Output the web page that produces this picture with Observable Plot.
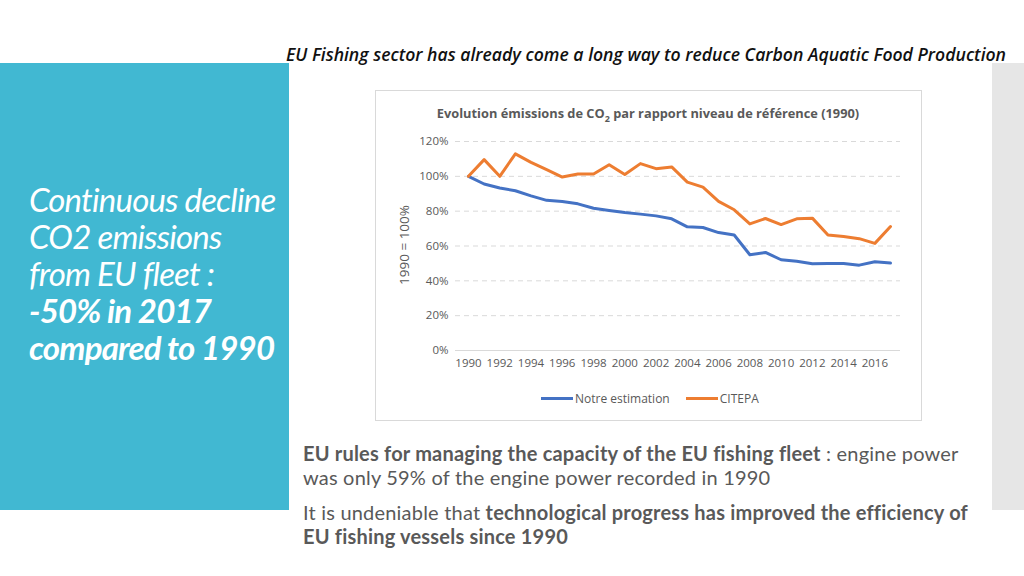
<!DOCTYPE html>
<html><head><meta charset="utf-8">
<script src="https://cdn.jsdelivr.net/npm/d3@7"></script>
<script src="https://cdn.jsdelivr.net/npm/@observablehq/plot@0.6"></script>
<style>
html,body{margin:0;padding:0;background:#fff;width:1024px;height:576px;overflow:hidden;position:relative;font-family:Lato,"Open Sans",sans-serif;}
.abs{position:absolute;}
#header{left:286px;top:42px;font-family:"Open Sans",sans-serif;font-style:italic;font-weight:600;font-size:18px;color:#111;white-space:nowrap;transform-origin:left top;}
#panel{left:0;top:63px;width:289px;height:447px;background:#41B8D2;}
#grayBar{left:992px;top:63px;width:32px;height:447px;background:#E6E6E6;}
#leftText{left:29px;top:181px;color:#fff;font-family:Lato,sans-serif;font-style:italic;font-weight:400;font-size:33px;line-height:37px;letter-spacing:-0.8px;white-space:nowrap;}
#leftText b{font-weight:700;}
#box{left:375px;top:90px;width:545px;height:329px;border:1px solid #d9d9d9;background:#fff;}
#ctitle{left:375px;top:104px;width:546px;text-align:center;font-family:"Open Sans",sans-serif;font-weight:700;font-size:12.8px;color:#595959;}
#ctitle sub{font-size:9px;}
#plot{left:375px;top:130px;}
#ylab{left:404px;top:245px;transform:translate(-50%,-50%) rotate(-90deg);font-family:"Open Sans",sans-serif;font-size:13.5px;color:#595959;white-space:nowrap;}
#legend{top:390px;left:541px;font-family:"Open Sans",sans-serif;font-size:12px;color:#595959;white-space:nowrap;display:flex;align-items:center;}
.sw{display:inline-block;width:32px;height:3px;margin-right:2px;}
#bottom{left:303px;top:441px;width:700px;font-family:Lato,sans-serif;font-size:20px;letter-spacing:0.2px;color:#595959;line-height:24px;white-space:nowrap;}
#bottom p{margin:0 0 11px 0;}
#bottom b{font-weight:700;}
</style></head>
<body>
<div id="header" class="abs">EU Fishing sector has already come a long way to reduce Carbon Aquatic Food Production</div>
<div id="panel" class="abs"></div>
<div id="grayBar" class="abs"></div>
<div id="leftText" class="abs">Continuous decline<br>CO2 emissions<br>from EU fleet :<br><b>-50% in 2017<br>compared to 1990</b></div>
<div id="box" class="abs"></div>
<div id="ctitle" class="abs">Evolution émissions de CO<sub>2</sub> par rapport niveau de référence (1990)</div>
<div id="plot" class="abs"></div>
<div id="ylab" class="abs">1990 = 100%</div>
<div id="legend" class="abs"><span class="sw" style="background:#4472C4"></span><span style="margin-right:16px">Notre estimation</span><span class="sw" style="background:#ED7D31"></span><span>CITEPA</span></div>
<div id="bottom" class="abs">
<p><b>EU rules for managing the capacity of the EU fishing fleet</b> : engine power<br>was only 59% of the engine power recorded in 1990</p>
<p>It is undeniable that <b>technological progress has improved the efficiency of<br>EU fishing vessels since 1990</b></p>
</div>
<script>
const years = [1990,1991,1992,1993,1994,1995,1996,1997,1998,1999,2000,2001,2002,2003,2004,2005,2006,2007,2008,2009,2010,2011,2012,2013,2014,2015,2016,2017];
const notreEstimation = [100,95.6,93.3,91.7,88.8,86.2,85.6,84.2,81.7,80.4,79.2,78.3,77.3,75.6,71,70.6,67.7,66.3,55,56.3,52.1,51.2,49.8,50,50,49,51,50.2];
const citepa = [100,109.6,100,112.9,108,103.8,99.6,101.3,101.3,106.7,101,107.3,104.4,105.4,96.7,93.8,85.6,80.8,72.7,75.8,72.3,75.6,76,66.3,65.4,64.2,61.5,71.2];
const seriesNames = ["Notre estimation","CITEPA"];
const seriesColors = ["#4472C4","#ED7D31"];
const yTicks = [0,20,40,60,80,100,120];
const xTicks = [1990,1992,1994,1996,1998,2000,2002,2004,2006,2008,2010,2012,2014,2016];

const data = [];
years.forEach((yr,i)=>{
  data.push({year:yr, value:notreEstimation[i], series:seriesNames[0]});
  data.push({year:yr, value:citepa[i], series:seriesNames[1]});
});

const chart = Plot.plot({
  width:546, height:250,
  marginLeft:80, marginRight:21, marginTop:11, marginBottom:30,
  insetLeft:13, insetRight:10,
  style:{fontFamily:"'Open Sans',sans-serif", fontSize:"11.5px", color:"#595959", background:"transparent"},
  x:{domain:[1990,2017], ticks:xTicks, tickFormat:d=>String(d), tickSize:0, tickPadding:8, label:null},
  y:{domain:[0,120], ticks:yTicks, tickFormat:d=>d+"%", tickSize:0, tickPadding:7, label:null},
  color:{domain:seriesNames, range:seriesColors},
  marks:[
    Plot.ruleY(yTicks.filter(d=>d>0), {stroke:"#d9d9d9", strokeWidth:1, strokeDasharray:"5,4", strokeOpacity:1}),
    Plot.ruleY([0], {stroke:"#d9d9d9", strokeWidth:1, strokeOpacity:1}),
    Plot.line(data, {x:"year", y:"value", z:"series", stroke:"series", strokeWidth:3, strokeLinejoin:"round"})
  ]
});
document.getElementById("plot").appendChild(chart);

// fit header to reference width (condensed look)
const h = document.getElementById("header");
const w = h.getBoundingClientRect().width;
h.style.transform = `scaleX(${720 / w})`;
</script>
</body></html>
